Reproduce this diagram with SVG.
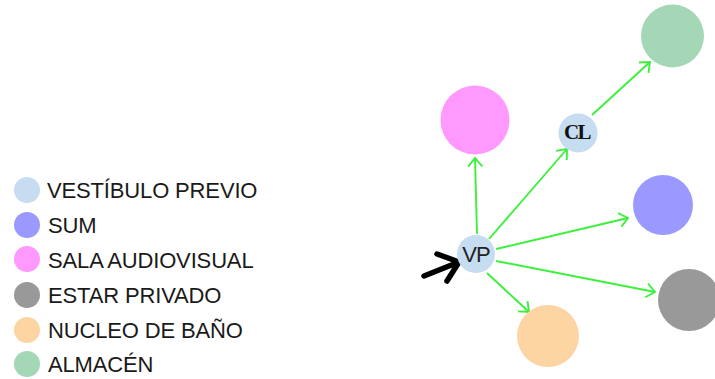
<svg xmlns="http://www.w3.org/2000/svg" width="715" height="379" viewBox="0 0 715 379">
<style>
.lg{font-family:"Liberation Sans",Arial,sans-serif;font-size:22px;fill:#1a1a1a;letter-spacing:-0.15px;}
.e{stroke:#3cf03c;stroke-width:1.9;fill:none;marker-end:url(#ah);}
.vp{font-family:"Liberation Sans",Arial,sans-serif;font-size:22px;fill:#222;text-anchor:middle;letter-spacing:-1px;}
.cl{font-family:"Liberation Serif","Times New Roman",serif;font-size:21px;font-weight:bold;fill:#111;text-anchor:middle;letter-spacing:-1.5px;}
</style>
<defs>
<marker id="ah" markerUnits="userSpaceOnUse" viewBox="-10 -8 12 16" refX="0" refY="0" markerWidth="12" markerHeight="16" orient="auto">
<path d="M-8.5,-7 L0,0 L-8.5,7" fill="none" stroke="#3cf03c" stroke-width="1.9"/>
</marker>
</defs>
<rect width="715" height="379" fill="#fff"/>
<g id="legend">
<circle cx="27" cy="190" r="13" fill="#c6dcf0"/><text class="lg" x="47" y="198">VESTÍBULO PREVIO</text>
<circle cx="27" cy="225" r="13" fill="#9999ff"/><text class="lg" x="48" y="233">SUM</text>
<circle cx="27" cy="259" r="13" fill="#ff99ff"/><text class="lg" x="48" y="268">SALA AUDIOVISUAL</text>
<circle cx="27" cy="295" r="13" fill="#999999"/><text class="lg" x="48" y="303">ESTAR PRIVADO</text>
<circle cx="27" cy="330" r="13" fill="#fcd5a2"/><text class="lg" x="48" y="338">NUCLEO DE BAÑO</text>
<circle cx="27" cy="364" r="13" fill="#a3d7b6"/><text class="lg" x="48" y="372">ALMACÉN</text>
</g>
<g id="connectors">
<line class="e" x1="477" y1="234" x2="475" y2="158"/>
<line class="e" x1="489" y1="239" x2="567" y2="149"/>
<line class="e" x1="592" y1="115" x2="650" y2="62"/>
<line class="e" x1="496" y1="249" x2="628" y2="218"/>
<line class="e" x1="496" y1="261" x2="655" y2="292"/>
<line class="e" x1="487" y1="273" x2="529" y2="312"/>
<path d="M424,276 L459,262 M437,254 L459,262 L447,281" fill="none" stroke="#000" stroke-width="5.5" stroke-linecap="round" stroke-linejoin="round"/>
</g>
<g id="VP"><circle cx="476" cy="254" r="19" fill="#c6dcf0"/><text class="vp" x="476" y="262">VP</text></g>
<g id="CL"><circle cx="578" cy="133" r="19.5" fill="#c6dcf0"/><text class="cl" x="577" y="139">CL</text></g>
<g id="SALA"><circle cx="475" cy="120" r="34.5" fill="#ff99ff"/></g>
<g id="SUM"><circle cx="663" cy="205" r="30" fill="#9999ff"/></g>
<g id="ESTAR"><circle cx="689" cy="300" r="31" fill="#999999"/></g>
<g id="NUCLEO"><circle cx="548" cy="336" r="31" fill="#fcd5a2"/></g>
<g id="ALMACEN"><circle cx="672.5" cy="36" r="31.5" fill="#a3d7b6"/></g>
</svg>
